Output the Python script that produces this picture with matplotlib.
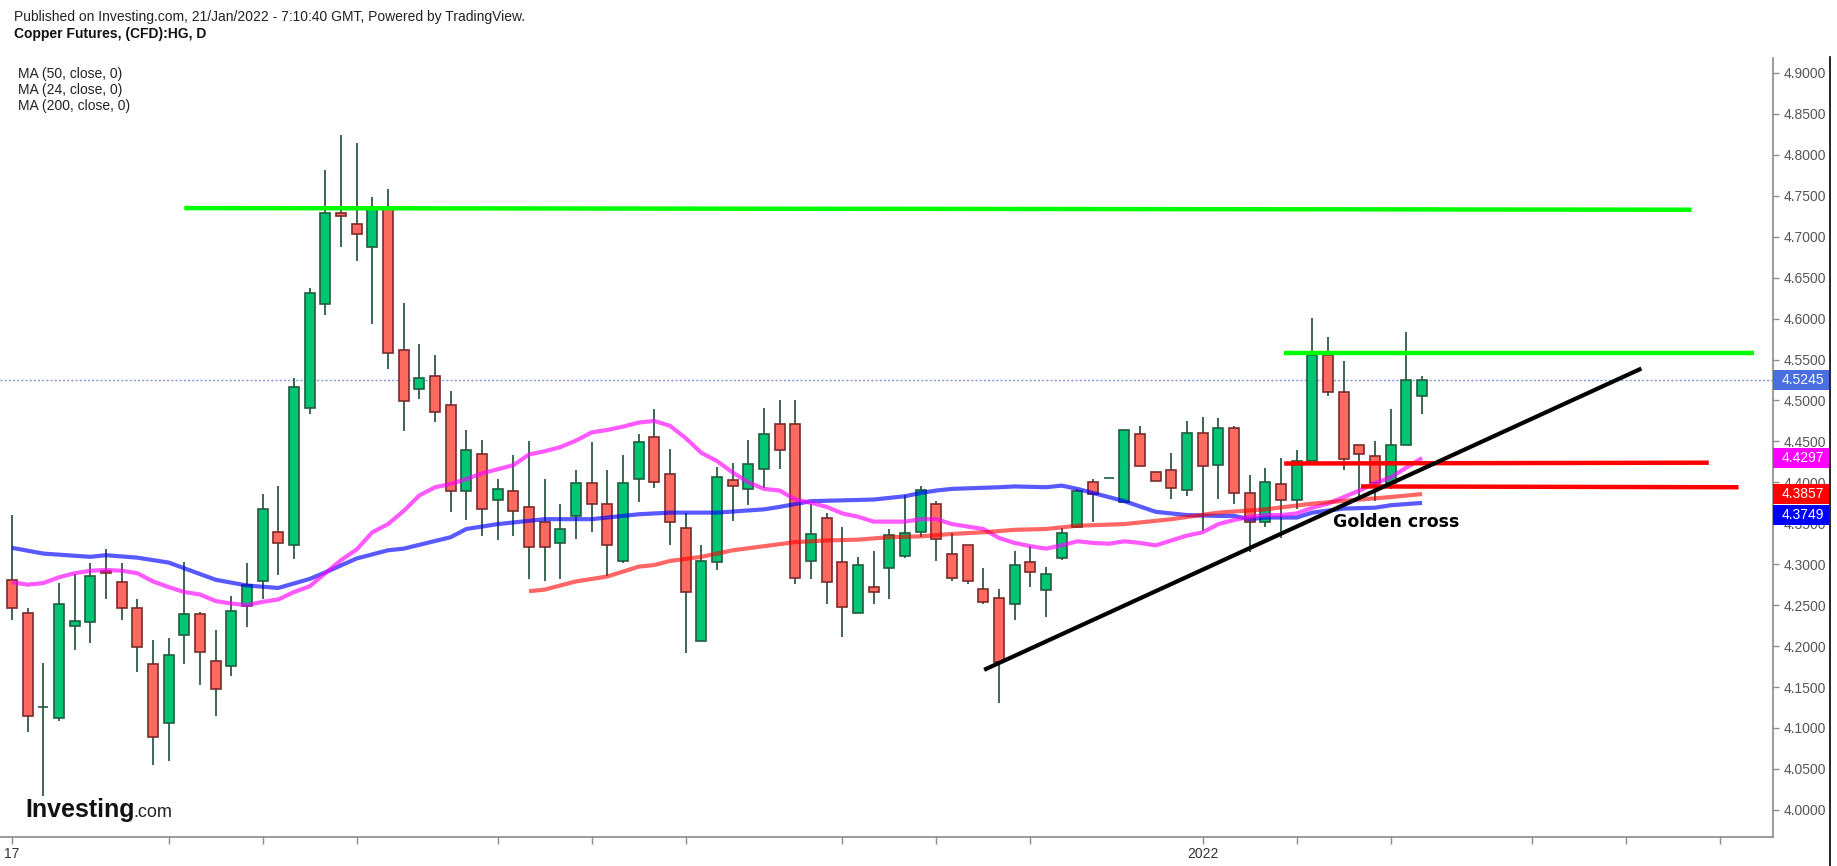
import matplotlib
matplotlib.use("Agg")
import matplotlib.pyplot as plt
from matplotlib.patches import Rectangle
from matplotlib.lines import Line2D
import numpy as np

W, H = 1837, 866

# ---------------- data ----------------
opens = [4.281, 4.240, 4.125, 4.112, 4.225, 4.229, 4.292, 4.278, 4.247, 4.178,
         4.106, 4.214, 4.239, 4.182, 4.176, 4.249, 4.279, 4.339, 4.323, 4.491,
         4.618, 4.729, 4.716, 4.687, 4.734, 4.562, 4.514, 4.530, 4.495, 4.389,
         4.434, 4.378, 4.390, 4.370, 4.352, 4.326, 4.359, 4.399, 4.374, 4.304,
         4.404, 4.455, 4.410, 4.344, 4.206, 4.303, 4.403, 4.392, 4.416, 4.471,
         4.471, 4.304, 4.356, 4.303, 4.241, 4.272, 4.295, 4.310, 4.339, 4.373,
         4.313, 4.323, 4.270, 4.259, 4.251, 4.303, 4.269, 4.308, 4.346, 4.400,
         4.405, 4.376, 4.459, 4.413, 4.415, 4.391, 4.460, 4.421, 4.466, 4.387,
         4.352, 4.398, 4.378, 4.426, 4.556, 4.510, 4.445, 4.432, 4.399, 4.445,
         4.505]
highs = [4.360, 4.246, 4.179, 4.277, 4.288, 4.301, 4.318, 4.301, 4.257, 4.208,
         4.210, 4.303, 4.242, 4.220, 4.261, 4.301, 4.386, 4.396, 4.527, 4.637,
         4.782, 4.824, 4.815, 4.749, 4.758, 4.619, 4.569, 4.555, 4.511, 4.464,
         4.452, 4.404, 4.433, 4.451, 4.404, 4.374, 4.415, 4.449, 4.415, 4.433,
         4.459, 4.490, 4.441, 4.362, 4.324, 4.419, 4.424, 4.452, 4.491, 4.500,
         4.500, 4.374, 4.362, 4.346, 4.309, 4.316, 4.343, 4.384, 4.395, 4.377,
         4.338, 4.324, 4.295, 4.270, 4.316, 4.322, 4.297, 4.344, 4.392, 4.404,
         4.405, 4.464, 4.469, 4.413, 4.436, 4.475, 4.480, 4.479, 4.469, 4.409,
         4.417, 4.430, 4.440, 4.601, 4.578, 4.548, 4.445, 4.450, 4.489, 4.584,
         4.530]
lows = [4.232, 4.095, 4.017, 4.108, 4.195, 4.204, 4.257, 4.232, 4.168, 4.055,
        4.060, 4.178, 4.152, 4.114, 4.163, 4.223, 4.257, 4.287, 4.306, 4.484,
        4.604, 4.687, 4.670, 4.593, 4.538, 4.463, 4.502, 4.474, 4.364, 4.354,
        4.334, 4.330, 4.334, 4.282, 4.279, 4.282, 4.331, 4.339, 4.286, 4.301,
        4.376, 4.393, 4.323, 4.192, 4.206, 4.293, 4.353, 4.372, 4.393, 4.416,
        4.276, 4.282, 4.251, 4.211, 4.241, 4.252, 4.258, 4.307, 4.333, 4.304,
        4.280, 4.276, 4.251, 4.130, 4.232, 4.272, 4.236, 4.305, 4.346, 4.352,
        4.405, 4.376, 4.420, 4.402, 4.380, 4.383, 4.341, 4.380, 4.373, 4.315,
        4.345, 4.332, 4.367, 4.421, 4.505, 4.415, 4.382, 4.377, 4.392, 4.445,
        4.484]
closes = [4.247, 4.115, 4.126, 4.252, 4.231, 4.286, 4.289, 4.246, 4.199, 4.089,
          4.189, 4.239, 4.193, 4.147, 4.243, 4.275, 4.367, 4.326, 4.516, 4.631,
          4.729, 4.725, 4.703, 4.734, 4.558, 4.499, 4.527, 4.486, 4.390, 4.439,
          4.368, 4.392, 4.365, 4.321, 4.321, 4.343, 4.399, 4.373, 4.323, 4.399,
          4.449, 4.400, 4.352, 4.266, 4.304, 4.407, 4.395, 4.423, 4.459, 4.440,
          4.283, 4.337, 4.278, 4.248, 4.299, 4.266, 4.336, 4.338, 4.391, 4.331,
          4.283, 4.279, 4.254, 4.180, 4.299, 4.291, 4.288, 4.338, 4.390, 4.386,
          4.405, 4.464, 4.420, 4.402, 4.393, 4.460, 4.420, 4.466, 4.387, 4.352,
          4.400, 4.378, 4.426, 4.556, 4.510, 4.429, 4.434, 4.399, 4.445, 4.525,
          4.5245]

ma50_x = [0, 2, 5, 6, 8, 10, 11, 13, 15, 17, 19, 20, 22, 24, 25, 28, 29, 31, 33,
          34, 37, 40, 42, 45, 48, 49, 51, 53, 55, 57, 58, 59, 60, 63, 64, 66, 67,
          68, 69, 70, 71, 73, 75, 77, 78, 79, 80, 82, 83, 85, 87, 88, 90]
ma50_y = [4.320, 4.313, 4.309, 4.311, 4.308, 4.302, 4.295, 4.281, 4.274, 4.271,
          4.282, 4.290, 4.307, 4.317, 4.319, 4.333, 4.343, 4.349, 4.353, 4.355,
          4.355, 4.361, 4.363, 4.363, 4.367, 4.370, 4.377, 4.378, 4.379, 4.383,
          4.387, 4.390, 4.392, 4.394, 4.395, 4.394, 4.396, 4.392, 4.387, 4.382,
          4.377, 4.364, 4.360, 4.359, 4.359, 4.355, 4.357, 4.357, 4.363, 4.368,
          4.369, 4.372, 4.3749]

ma24_x = list(range(0, 91))
ma24_y = [4.278, 4.275, 4.277, 4.284, 4.289, 4.292, 4.293, 4.292, 4.289, 4.279,
          4.272, 4.266, 4.263, 4.255, 4.252, 4.250, 4.254, 4.257, 4.266, 4.273,
          4.289, 4.305, 4.318, 4.339, 4.349, 4.365, 4.384, 4.394, 4.398, 4.404,
          4.411, 4.416, 4.421, 4.434, 4.438, 4.443, 4.451, 4.461, 4.464, 4.468,
          4.473, 4.475, 4.469, 4.454, 4.436, 4.426, 4.412, 4.400, 4.392, 4.390,
          4.379, 4.375, 4.370, 4.362, 4.358, 4.352, 4.352, 4.352, 4.355, 4.355,
          4.349, 4.346, 4.343, 4.332, 4.326, 4.322, 4.319, 4.323, 4.328, 4.326,
          4.325, 4.328, 4.326, 4.323, 4.329, 4.335, 4.339, 4.349, 4.354, 4.358,
          4.360, 4.360, 4.362, 4.369, 4.374, 4.382, 4.390, 4.399, 4.406, 4.418,
          4.4297]

ma200_x = [33, 34, 36, 38, 40, 41, 42, 44, 46, 48, 50, 52, 54, 56, 58, 60, 62,
           64, 66, 68, 71, 74, 77, 80, 83, 86, 88, 90]
ma200_y = [4.267, 4.269, 4.279, 4.285, 4.297, 4.299, 4.304, 4.309, 4.317, 4.322,
           4.327, 4.329, 4.330, 4.333, 4.334, 4.337, 4.339, 4.342, 4.343, 4.347,
           4.349, 4.355, 4.363, 4.367, 4.374, 4.379, 4.382, 4.3857]

last_price = 4.5245
ma24_last, ma200_last, ma50_last = 4.4297, 4.3857, 4.3749

# hand-drawn levels: (x_start, x_end, y_start, y_end) in bar index / price
green_levels = [(11.0, 107.2, 4.735, 4.733), (81.2, 111.2, 4.558, 4.558)]
red_levels = [(81.2, 108.3, 4.423, 4.424), (86.1, 110.2, 4.395, 4.394)]
trend_line = (62.05, 104.0, 4.171, 4.539)
note_text = "Golden cross"
note_pos = (84.3, 4.351)

xtick_pos = [0, 10, 16, 22, 31, 37, 43, 53, 59, 65, 76, 82, 88, 97, 103, 109]
xtick_lab = ["17", "", "", "", "", "", "", "", "", "", "2022", "", "", "", "", ""]
ytick_vals = [4.00, 4.05, 4.10, 4.15, 4.20, 4.25, 4.30, 4.35, 4.40, 4.45,
              4.50, 4.55, 4.60, 4.65, 4.70, 4.75, 4.80, 4.85, 4.90]

# ---------------- figure ----------------
plt.rcParams["font.family"] = ["Liberation Sans", "DejaVu Sans"]
fig = plt.figure(figsize=(W / 100, H / 100), dpi=100)
fig.patch.set_facecolor("white")

ax_left, ax_right, ax_top, ax_bot = 0, 1773, 58, 837
ax = fig.add_axes([ax_left / W, 1 - ax_bot / H, (ax_right - ax_left) / W,
                   (ax_bot - ax_top) / H])
ax.set_facecolor("white")
ax.set_xlim(-0.766, 112.4)
ax.set_ylim(3.9668, 4.9183)

idx = np.arange(len(opens))
o = np.array(opens); c = np.array(closes)
hi = np.array(highs); lo = np.array(lows)
up = c >= o

wick_col = "#2f5b46"
ax.vlines(idx, lo, hi, color=wick_col, lw=1.3, zorder=2)
body_bottom = np.minimum(o, c)
body_h = np.abs(c - o)
ax.bar(idx[up], body_h[up], bottom=body_bottom[up], width=0.64,
       color="#00c574", edgecolor="#245c41", linewidth=1.2, zorder=3)
ax.bar(idx[~up], body_h[~up], bottom=body_bottom[~up], width=0.64,
       color="#ff6a60", edgecolor="#7a2b2b", linewidth=1.2, zorder=3)

# moving averages
ax.plot(ma50_x, ma50_y, color="#0000ff", alpha=0.65, lw=3.0, zorder=4,
        solid_capstyle="butt")
ax.plot(ma24_x, ma24_y, color="#ff00ff", alpha=0.65, lw=3.0, zorder=4,
        solid_capstyle="butt")
ax.plot(ma200_x, ma200_y, color="#ff0000", alpha=0.6, lw=3.0, zorder=4,
        solid_capstyle="butt")

# current price line
ax.axhline(last_price, color="#7b93e0", lw=1.0, ls=(0, (1.5, 1.5)), zorder=1)

# drawings
for x0, x1, y0, y1 in green_levels:
    ax.plot([x0, x1], [y0, y1], color="#00ff00", lw=3.2, zorder=5,
            solid_capstyle="butt")
for x0, x1, y0, y1 in red_levels:
    ax.plot([x0, x1], [y0, y1], color="#ff0000", lw=3.2, zorder=5,
            solid_capstyle="butt")
tx0, tx1, ty0, ty1 = trend_line
ax.plot([tx0, tx1], [ty0, ty1], color="black", lw=3.0, zorder=5,
        solid_capstyle="butt")
ax.text(note_pos[0], note_pos[1], note_text, fontsize=12.5, fontweight="bold",
        family=["DejaVu Sans"], color="black", va="center", ha="left", zorder=6)

# axes styling
for s in ("top", "left"):
    ax.spines[s].set_visible(False)
for s in ("right", "bottom"):
    ax.spines[s].set_color("#8a8a8a")
    ax.spines[s].set_linewidth(1.2)
ax.yaxis.tick_right()
ax.set_yticks(ytick_vals)
ax.set_yticklabels([f"{v:.4f}" for v in ytick_vals])
ax.tick_params(axis="y", direction="out", length=4, width=1, color="#8a8a8a",
               labelcolor="#555555", labelsize=10, pad=4)
ax.set_xticks(xtick_pos)
ax.set_xticklabels(xtick_lab)
ax.tick_params(axis="x", direction="out", length=5, width=1, color="#8a8a8a",
               labelcolor="#333333", labelsize=10, pad=2)

# price boxes on the right axis
fig.canvas.draw()


def price_box(value, color, shift_px=0.0):
    _, yd = ax.transData.transform((0, value))
    yd -= shift_px
    x0, x1, hh = 1773, 1829, 20
    fig.patches.append(Rectangle((x0 / W, (yd - hh / 2) / H), (x1 - x0) / W,
                                 hh / H, transform=fig.transFigure,
                                 facecolor=color, edgecolor="none", zorder=5))
    fig.text((x0 + 9) / W, yd / H, f"{value:.4f}", color="white",
             fontsize=10, va="center", ha="left", zorder=6)


price_box(last_price, "#4a6fe0")
price_box(ma24_last, "#ff00ff")
price_box(ma200_last, "#ff0000")
price_box(ma50_last, "#0000ff", shift_px=12.5)

# right frame line
fig.add_artist(Line2D([1829.5 / W, 1829.5 / W], [0, 1 - 57 / H],
                      transform=fig.transFigure, color="black", lw=1.2))

# header texts
fig.text(14 / W, 1 - 17 / H,
         "Published on Investing.com, 21/Jan/2022 - 7:10:40 GMT, Powered by TradingView.",
         fontsize=10, color="#222222", va="center", ha="left")
fig.text(14 / W, 1 - 34 / H, "Copper Futures, (CFD):HG, D", fontsize=10,
         fontweight="bold", color="#111111", va="center", ha="left")
for k, lab in enumerate(["MA (50, close, 0)", "MA (24, close, 0)",
                         "MA (200, close, 0)"]):
    fig.text(18 / W, 1 - (74 + 16 * k) / H, lab, fontsize=10,
             color="#222222", va="center", ha="left")

# logo
fig.text(25 / W, 1 - 817 / H, "Investing", fontsize=18, fontweight="bold",
         color="#111111", va="baseline", ha="left")
fig.text(133 / W, 1 - 817 / H, ".com", fontsize=13, color="#222222",
         va="baseline", ha="left")

fig.savefig("out.png", dpi=100, facecolor="white")
